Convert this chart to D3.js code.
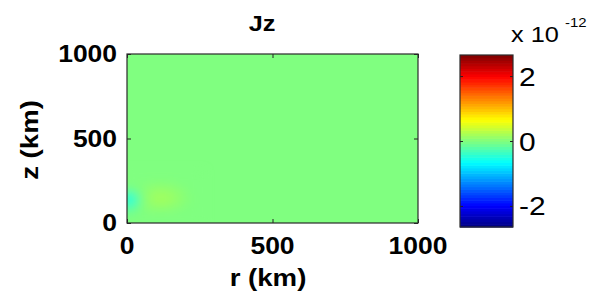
<!DOCTYPE html>
<html>
<head>
<meta charset="utf-8">
<script src="https://cdn.jsdelivr.net/npm/d3@7"></script>
<style>
  body { margin: 0; background: #fff; }
  text { font-family: "Liberation Sans", Arial, sans-serif; fill: #000; }
</style>
</head>
<body>
<svg id="chart" width="594" height="297"></svg>
<script>
// grid of the field Jz (units of 1e-12)
var rVals = [0, 25, 50, 75, 100, 125, 150, 175, 200, 225, 250];
var zVals = [0, 25, 50, 75, 100, 125, 150, 175, 200, 225, 250, 275, 300];
var jzRows = [
  [0, 0, 0, 0, 0, 0, 0, 0, 0, 0, 0],
  [0, 0, 0, 0, 0, 0, 0, 0, 0, 0, 0],
  [-0.05, -0.02, 0, 0, 0, 0, 0, 0, 0, 0, 0],
  [-0.15, -0.08, 0, 0.03, 0.04, 0.04, 0.03, 0.01, 0, 0, 0],
  [-0.3, -0.18, 0, 0.07, 0.1, 0.1, 0.08, 0.05, 0.02, 0, 0],
  [-0.5, -0.32, -0.04, 0.1, 0.15, 0.16, 0.13, 0.08, 0.04, 0.01, 0],
  [-0.55, -0.36, -0.04, 0.11, 0.17, 0.17, 0.14, 0.1, 0.05, 0.01, 0],
  [-0.35, -0.2, 0, 0.1, 0.15, 0.15, 0.13, 0.08, 0.04, 0, 0],
  [-0.12, -0.06, 0.02, 0.07, 0.11, 0.11, 0.09, 0.06, 0.02, 0, 0],
  [0, 0, 0.02, 0.04, 0.06, 0.06, 0.05, 0.03, 0.01, 0, 0],
  [0, 0, 0, 0.01, 0.02, 0.02, 0.01, 0, 0, 0, 0],
  [0, 0, 0, 0, 0, 0, 0, 0, 0, 0, 0],
  [0, 0, 0, 0, 0, 0, 0, 0, 0, 0, 0]
];
var xTicks = [0, 500, 1000];
var yTicks = [0, 500, 1000];
var cbTicks = [-2, 0, 2];
var cbDomain = [-2.65, 2.65];

var svg = d3.select("#chart");
var L = 127, R = 418, T = 54, B = 223;
var x = d3.scaleLinear().domain([0, 1000]).range([L, R]);
var y = d3.scaleLinear().domain([0, 1000]).range([B, T]);

// matlab jet
function jet(t) {
  t = Math.max(0, Math.min(1, t));
  var c = function(v) { return Math.round(255 * Math.max(0, Math.min(1, v))); };
  return d3.rgb(c(1.5 - Math.abs(4 * t - 3)), c(1.5 - Math.abs(4 * t - 2)), c(1.5 - Math.abs(4 * t - 1))) + "";
}
var tScale = d3.scaleLinear().domain(cbDomain).range([0, 1]).clamp(true);
var color = function(v) { return jet(tScale(v)); };

var defs = svg.append("defs");
defs.append("clipPath").attr("id", "clip").append("rect")
    .attr("x", L).attr("y", T).attr("width", R - L).attr("height", B - T);
defs.append("filter").attr("id", "soft")
    .attr("x", "-20%").attr("y", "-20%").attr("width", "140%").attr("height", "140%")
  .append("feGaussianBlur").attr("stdDeviation", "5 4");

// field
var plot = svg.append("g").attr("clip-path", "url(#clip)");
plot.append("rect").attr("x", L).attr("y", T).attr("width", R - L).attr("height", B - T)
    .attr("fill", color(0));
var cells = [];
jzRows.forEach(function(row, i) {
  row.forEach(function(v, j) { cells.push({ r: rVals[j], z: zVals[i], v: v }); });
});
plot.append("g").attr("filter", "url(#soft)")
  .selectAll("rect").data(cells).enter().append("rect")
    .attr("x", function(d) { return x(d.r - 12.5); })
    .attr("y", function(d) { return y(d.z + 12.5); })
    .attr("width", x(25) - x(0) + 0.5)
    .attr("height", y(0) - y(25) + 0.5)
    .attr("fill", function(d) { return color(d.v); });

// ticks (inward, on all four sides)
svg.append("g").attr("transform", "translate(0," + B + ")")
  .call(d3.axisBottom(x).tickValues(xTicks).tickSize(-4).tickFormat(""));
svg.append("g").attr("transform", "translate(0," + T + ")")
  .call(d3.axisTop(x).tickValues(xTicks).tickSize(-4).tickFormat(""));
svg.append("g").attr("transform", "translate(" + L + ",0)")
  .call(d3.axisLeft(y).tickValues(yTicks).tickSize(-4).tickFormat(""));
svg.append("g").attr("transform", "translate(" + R + ",0)")
  .call(d3.axisRight(y).tickValues(yTicks).tickSize(-4).tickFormat(""));
svg.selectAll(".domain").remove();
svg.selectAll(".tick line").attr("stroke", "#222");

svg.append("rect").attr("x", L).attr("y", T).attr("width", R - L).attr("height", B - T)
    .attr("fill", "none").attr("stroke", "#2a2a2a").attr("stroke-width", 1.2);

function label(txt, px, py, opts) {
  opts = opts || {};
  var t = svg.append("text")
      .attr("transform", "translate(" + px + "," + py + ")" + (opts.rot ? " rotate(" + opts.rot + ")" : "") + " scale(1.15,1)")
      .attr("text-anchor", opts.anchor || "middle")
      .style("font-size", (opts.size || 23) + "px")
      .style("font-weight", opts.weight || "bold")
      .text(txt);
  return t;
}

xTicks.forEach(function(v) { label(v, x(v), 254); });
yTicks.forEach(function(v) { label(v, 117, y(v) + 8.3, { anchor: "end" }); });
label("r (km)", 268, 286, { size: 24 });
label("z (km)", 38, 140, { size: 24, rot: -90 });
label("Jz", 262, 31, { size: 22 });

// colorbar
var cbL = 460, cbR = 513, cbT = 55, cbB = 227;
var cy = d3.scaleLinear().domain(cbDomain).range([cbB, cbT]);
var nLev = 64;
var cb = svg.append("g");
cb.selectAll("rect").data(d3.range(nLev)).enter().append("rect")
    .attr("x", cbL)
    .attr("y", function(i) { return cbB - (i + 1) * (cbB - cbT) / nLev; })
    .attr("width", cbR - cbL)
    .attr("height", (cbB - cbT) / nLev + 0.6)
    .attr("fill", function(i) { return jet((i + 0.5) / nLev); });
svg.append("g").attr("transform", "translate(" + cbL + ",0)")
  .call(d3.axisLeft(cy).tickValues(cbTicks).tickSize(-3).tickFormat(""));
svg.append("g").attr("transform", "translate(" + cbR + ",0)")
  .call(d3.axisRight(cy).tickValues(cbTicks).tickSize(-3).tickFormat(""));
svg.selectAll(".domain").remove();
svg.selectAll(".tick line").attr("stroke", "#222");
svg.append("rect").attr("x", cbL).attr("y", cbT).attr("width", cbR - cbL).attr("height", cbB - cbT)
    .attr("fill", "none").attr("stroke", "#2a2a2a").attr("stroke-width", 1.2);

cbTicks.forEach(function(v) {
  label(v === 0 ? "0" : (v < 0 ? "-" + Math.abs(v) : v), 519, cy(v) + 9.5, { anchor: "start", size: 26, weight: "normal" });
});
label("x 10", 511, 42, { anchor: "start", size: 22, weight: "normal" });
label("-12", 565, 27, { anchor: "start", size: 13, weight: "normal" });
</script>
</body>
</html>
